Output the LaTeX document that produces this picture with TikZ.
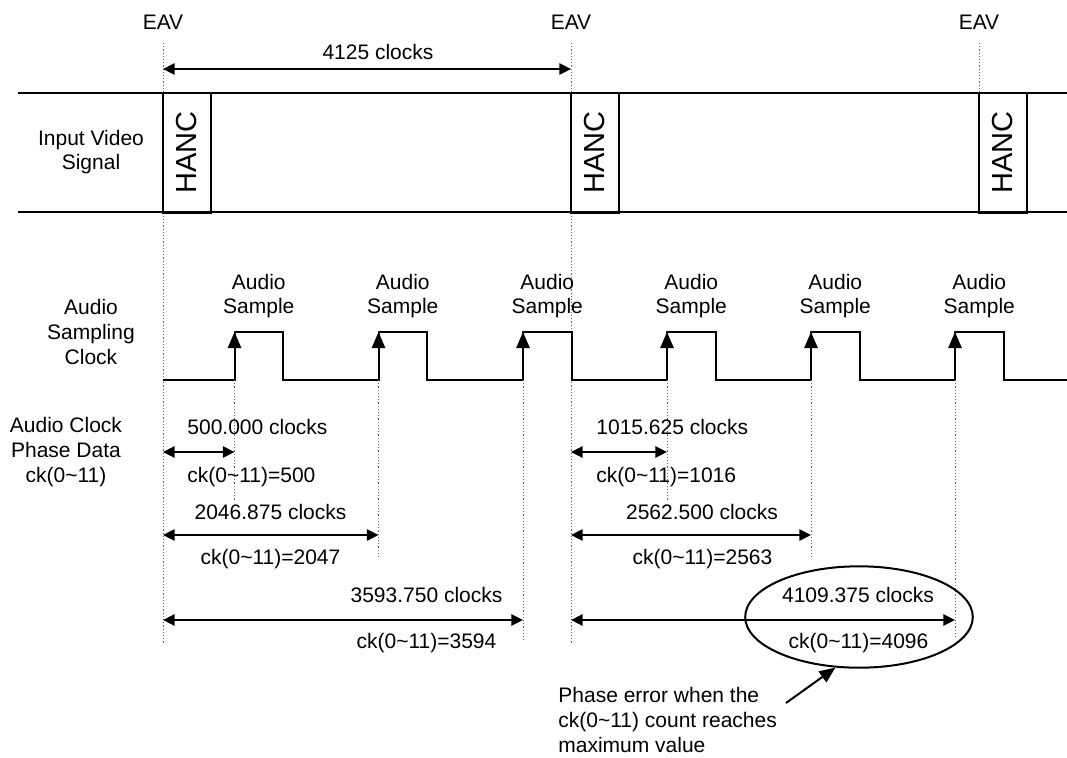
\documentclass[tikz,border=0pt]{standalone}
\usepackage{fontspec}
\setmainfont{Liberation Sans}
\usetikzlibrary{arrows.meta,shapes.geometric}

\newcommand{\cknum}{ck(0\textasciitilde11)}

\begin{document}
\begin{tikzpicture}[
	x=0.5pt, y=-0.5pt,
	every node/.style={font=\fontsize{10.5}{12.4}\selectfont, align=center, inner sep=0pt},
	signal/.style={line width=1pt},
	guide/.style={line width=0.5pt, dash pattern=on 0.6pt off 1pt, black!60},
	dim/.style={line width=1pt, {Triangle[length=5.8pt,width=5.6pt]}-{Triangle[length=5.8pt,width=5.6pt]}},
	rise/.style={line width=1pt, -{Triangle[length=8pt,width=6.6pt]}},
	hanc/.style={draw, line width=1pt, rotate=90, minimum width=60pt, minimum height=24pt, font=\fontsize{14.5}{16}\selectfont},
	callout/.style={draw, ellipse, line width=1pt, minimum width=113.8pt, minimum height=50.7pt},
]
\useasboundingbox (0,0) rectangle (1067,757);

% frame markers
\foreach \x [count=\i] in {163,571,979} {
	\coordinate (eav\i) at (\x,43);
	\node (eavlabel\i) at (\x,22) {EAV};
}
\coordinate (rowtop) at (0,69);
\coordinate (rowA) at (0,452);
\coordinate (rowB) at (0,535);
\coordinate (rowC) at (0,620);

% dotted guides
\draw[guide] (eav1) -- (163,643);
\draw[guide] (eav2) -- (571,643);
\draw[guide] (eav3) -- (979,93);

% line length
\draw[dim] (eav1 |- rowtop) -- (eav2 |- rowtop);
\node (linelen) at (378,52) {4125 clocks};

% video line with HANC
\node (videolabel) at (91,152) {Input Video\\Signal};
\draw[signal] (18,93) -- (1067,93);
\draw[signal] (18,212) -- (1067,212);
\foreach \x [count=\i] in {163,571,979}
	\node[hanc] (hanc\i) at (\x+24,152.5) {HANC};

% audio clock
\node (clocklabel) at (91,332) {Audio\\Sampling\\Clock};
\draw[signal] (163,380)
	\foreach \r in {234.5,378.5,523,667,811,955} {
		-- (\r,380) -- (\r,332) -- (\r+48.5,332) -- (\r+48.5,380)
	} -- (1067,380);
\foreach \r/\e [count=\i] in {234.5/500,378.5/557,523/642,667/500,811/557,955/637} {
	\coordinate (rise\i) at (\r,380);
	\coordinate (top\i) at (\r,332);
	\draw[rise] (rise\i) -- (top\i);
	\draw[guide] (rise\i) -- (\r,\e);
	\node (sample\i) at (\r+24.25,296) {Audio\\Sample};
}

% phase data
\node (phaselabel) at (66,452) {Audio Clock\\Phase Data\\\cknum};

\draw[dim] (eav1 |- rowA) -- (rise1 |- rowA);
\node[anchor=west] (lenA1) at (187,427) {500.000 clocks};
\node[anchor=west] (ckA1) at (187,477) {\cknum=500};
\draw[dim] (eav2 |- rowA) -- (rise4 |- rowA);
\node[anchor=west] (lenA2) at (596,427) {1015.625 clocks};
\node[anchor=west] (ckA2) at (596,477) {\cknum=1016};

\draw[dim] (eav1 |- rowB) -- (rise2 |- rowB);
\node (lenB1) at (270.5,512) {2046.875 clocks};
\node (ckB1) at (270.5,559) {\cknum=2047};
\draw[dim] (eav2 |- rowB) -- (rise5 |- rowB);
\node (lenB2) at (702,512) {2562.500 clocks};
\node (ckB2) at (702.5,559) {\cknum=2563};

\draw[dim] (eav1 |- rowC) -- (rise3 |- rowC);
\node (lenC1) at (426.5,595) {3593.750 clocks};
\node (ckC1) at (426.5,643) {\cknum=3594};
\draw[dim] (eav2 |- rowC) -- (rise6 |- rowC);
\node (lenC2) at (858,595) {4109.375 clocks};
\node (ckC2) at (858.5,643) {\cknum=4096};

% maximum count note
\node[callout] (maxerr) at (859,617) {};
\node[anchor=west, align=left] (note) at (558,720) {Phase error when the\\\cknum{} count reaches\\maximum value};
\coordinate (notetail) at (786,703);
\draw[rise] (notetail) -- (maxerr.-115);
\end{tikzpicture}
\end{document}
